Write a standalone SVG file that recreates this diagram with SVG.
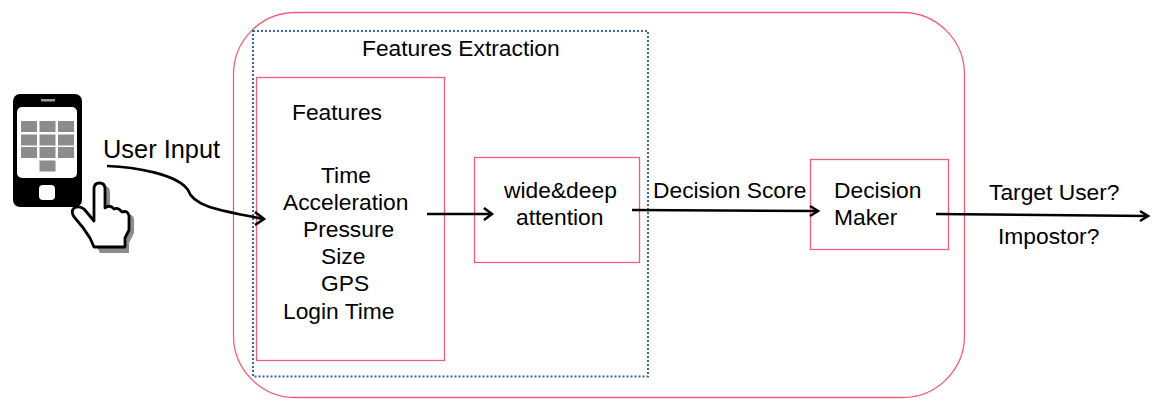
<svg xmlns="http://www.w3.org/2000/svg" width="1160" height="412" viewBox="0 0 1160 412">
<style>
.box{fill:none;stroke:#ee5f7a;stroke-width:1.3}
.t{font-family:"Liberation Sans",Arial,sans-serif;font-size:22.8px;fill:#000}
.c{fill:none;stroke:#000;stroke-width:2.6}
.h{fill:none;stroke:#000;stroke-width:2.6}
.k{fill:#8c8c8c}
</style>
<rect width="1160" height="412" fill="#fff"/>
<g id="outer"><rect class="box" x="233.500" y="12.500" width="731" height="385" rx="62" ry="62"/></g>
<g id="features-extraction">
<rect x="253" y="31" width="395" height="345.500" fill="none" stroke="#3c62a8" stroke-width="2" stroke-dasharray="2 2"/>
<text class="t" x="362" y="56">Features Extraction</text>
</g>
<g id="features">
<rect class="box" x="256.500" y="77.500" width="188" height="283"/>
<text class="t" x="292" y="120">Features</text>
<text class="t" x="321" y="183">Time</text>
<text class="t" x="283" y="210">Acceleration</text>
<text class="t" x="303" y="237">Pressure</text>
<text class="t" x="321" y="264">Size</text>
<text class="t" x="321" y="291">GPS</text>
<text class="t" x="283" y="319">Login Time</text>
</g>
<g id="attention">
<rect class="box" x="474.500" y="157.500" width="165" height="105"/>
<text class="t" x="504" y="198">wide&amp;deep</text>
<text class="t" x="516" y="225">attention</text>
</g>
<g id="decision-maker">
<rect class="box" x="810.500" y="159.500" width="138" height="90"/>
<text class="t" x="834" y="198">Decision</text>
<text class="t" x="834" y="225">Maker</text>
</g>
<g id="phone">
<rect x="13" y="94" width="69" height="113" rx="7" fill="#000"/>
<rect x="41" y="99" width="14" height="2.500" fill="#999"/>
<rect x="17" y="107" width="60" height="71" rx="5" fill="#fff"/>
<rect x="39" y="185" width="16" height="15" rx="4" fill="#fff"/>
<g class="k">
<rect x="21" y="121" width="16" height="11"/><rect x="39.500" y="121" width="16" height="11"/><rect x="58" y="121" width="16" height="11"/>
<rect x="21" y="134.500" width="16" height="11"/><rect x="39.500" y="134.500" width="16" height="11"/><rect x="58" y="134.500" width="16" height="11"/>
<rect x="21" y="147" width="16" height="11"/><rect x="39.500" y="147" width="16" height="11"/><rect x="58" y="147" width="16" height="11"/>
<rect x="39.500" y="160.500" width="16" height="11"/>
</g>
<path id="hand-shadow" d="M96 250L91 240Q84 228 75 218Q70 212 74 208Q79 205 84 209L95 221V189Q95 183 100 183Q106 183 106 189V208Q111 204 114 209Q119 207 122 212Q129 210 130 216V230L125 240V250Z" fill="#8c8c8c" transform="translate(4 3)"/>
<path id="hand" d="M94 247L90 238Q84 228 75 218Q70 212 74 208Q79 205 84 209L94 221V189Q94 183 99.500 183Q105 183 105 189V208Q110 204 114 209Q118 207 122 212Q128 210 129 216V230L125 238V247Z" fill="#fff" stroke="#000" stroke-width="2.800" stroke-linejoin="round"/>
</g>
<g id="connectors">
<path class="c" d="M107 166C135 167 177 174 188 190C194 208 225 211 263 219"/>
<path class="h" d="M255 212L264 219L255 225"/>
<path class="c" d="M427 214H491"/><path class="h" d="M484 208L492 214L484 220"/>
<path class="c" d="M632 210L817 211"/><path class="h" d="M810 206L818 211L810 216"/>
<path class="c" d="M936 214L1147 216"/><path class="h" d="M1140 211L1148 216L1140 221"/>
</g>
<g id="labels">
<text class="t" x="103" y="158" style="font-size:25.400px">User Input</text>
<text class="t" x="653" y="198">Decision Score</text>
<text class="t" x="989" y="200">Target User?</text>
<text class="t" x="998" y="244">Impostor?</text>
</g>
</svg>
